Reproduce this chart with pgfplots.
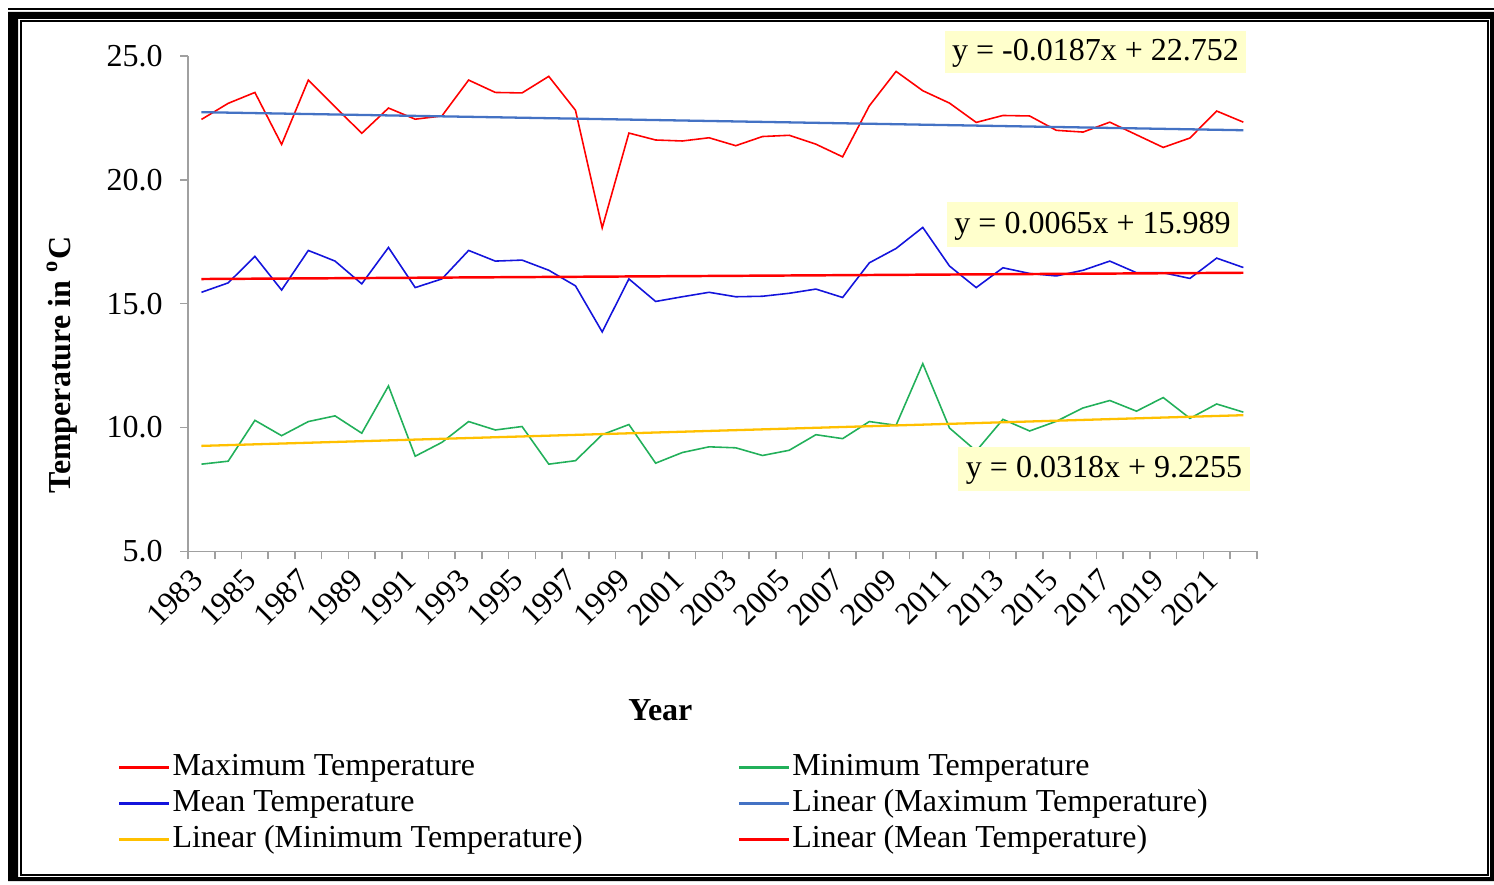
\documentclass[border=0pt]{standalone}
\usepackage{pgfplots}
\usepackage{pgfplotstable}
\pgfplotsset{compat=1.18}
\usepackage{fontspec}
\setmainfont{Liberation Serif}
\definecolor{maxc}{HTML}{FF0000}
\definecolor{meanc}{HTML}{1414DC}
\definecolor{minc}{HTML}{22B05A}
\definecolor{linmax}{HTML}{4472C4}
\definecolor{linmin}{HTML}{FFC000}
\definecolor{linmean}{HTML}{FF0000}
\definecolor{axisgray}{HTML}{A0A0A0}
\definecolor{eqfill}{HTML}{FFFFCC}

\pgfplotstableread{
x  max    min    mean
1  22.44  8.52   15.46
2  23.09  8.64   15.84
3  23.53  10.29  16.91
4  21.43  9.67   15.55
5  24.03  10.24  17.15
6  22.95  10.47  16.72
7  21.88  9.77   15.80
8  22.90  11.68  17.27
9  22.45  8.84   15.65
10 22.58  9.40   16.00
11 24.03  10.24  17.15
12 23.53  9.90   16.72
13 23.51  10.04  16.76
14 24.18  8.52   16.35
15 22.81  8.66   15.72
16 18.06  9.71   13.86
17 21.89  10.12  16.00
18 21.61  8.56   15.09
19 21.57  8.99   15.28
20 21.70  9.22   15.46
21 21.38  9.18   15.28
22 21.75  8.87   15.30
23 21.80  9.08   15.42
24 21.44  9.71   15.59
25 20.93  9.55   15.25
26 22.99  10.24  16.65
27 24.38  10.09  17.23
28 23.60  12.58  18.08
29 23.10  9.98   16.52
30 22.32  9.05   15.65
31 22.60  10.33  16.45
32 22.58  9.86   16.22
33 22.00  10.25  16.12
34 21.93  10.79  16.35
35 22.33  11.09  16.72
36 21.82  10.66  16.25
37 21.31  11.21  16.25
38 21.69  10.37  16.02
39 22.78  10.95  16.84
40 22.33  10.62  16.46
}\datatable

\begin{document}
\begin{tikzpicture}[font=\fontsize{9.1}{10.9}\selectfont]
\begin{scope}[x=0.01cm,y=-0.01cm,shift={(0,8.84cm)}]
  \useasboundingbox (0,0) rectangle (1494,884);
  \fill[black] (8,8) rectangle (1494,10);
  \fill[black,even odd rule] (8,12) rectangle (1494,881) (18,19) rectangle (1490,877);
  \draw[black,line width=0.015cm] (21,21) rectangle (1488,875);
\end{scope}

\begin{axis}[
  scale only axis, width=10.68cm, height=4.95cm,
  at={(1.88cm,3.33cm)}, anchor=south west,
  xmin=0.5, xmax=40.5, ymin=5, ymax=25,
  axis x line*=bottom, axis y line*=left,
  axis line style={draw=axisgray, line width=0.45pt, -},
  tick style={draw=axisgray, line width=0.45pt},
  tick align=outside, major tick length=0.08cm,
  ytick={5,10,15,20,25},
  /pgf/number format/assume math mode=true,
  y tick label style={/pgf/number format/.cd, fixed, fixed zerofill, precision=1, /tikz/.cd, xshift=-0.05cm},
  xtick={0.5,1.5,2.5,3.5,4.5,5.5,6.5,7.5,8.5,9.5,10.5,11.5,12.5,13.5,14.5,15.5,16.5,17.5,18.5,19.5,20.5,21.5,22.5,23.5,24.5,25.5,26.5,27.5,28.5,29.5,30.5,31.5,32.5,33.5,34.5,35.5,36.5,37.5,38.5,39.5,40.5},
  xticklabels={},
  extra x ticks={1,3,5,7,9,11,13,15,17,19,21,23,25,27,29,31,33,35,37,39},
  extra x tick labels={1983,1985,1987,1989,1991,1993,1995,1997,1999,2001,2003,2005,2007,2009,2011,2013,2015,2017,2019,2021},
  extra x tick style={major tick length=0pt, xticklabel style={xshift=-0.12cm, yshift=-0.15cm, rotate=45, anchor=north east, inner sep=0pt}},
  ylabel={\textbf{Temperature in \textsuperscript{o}C}},
  ylabel style={at={(axis description cs:-0.118,0.376)}, anchor=center},
  xlabel={\textbf{Year}},
  xlabel style={at={(axis description cs:0.442,-0.321)}, anchor=center},
  legend columns=2,
  legend cell align=left,
  legend style={at={(axis description cs:-0.0655,-0.400)}, anchor=north west,
    draw=none, fill=none, inner sep=0pt, outer sep=0pt, row sep=0pt,
    /tikz/every even column/.append style={column sep=1.53cm},
    nodes={inner sep=0.02cm, text height=0.24cm, text depth=0.08cm}},
  legend image code/.code={\draw[#1] (0cm,0cm) -- (0.5cm,0cm);},
]
\addplot[color=maxc, line width=0.45pt, forget plot] table[x=x,y=max] {\datatable};
\addplot[color=minc, line width=0.45pt, forget plot] table[x=x,y=min] {\datatable};
\addplot[color=meanc, line width=0.45pt, forget plot] table[x=x,y=mean] {\datatable};
\addplot[color=linmax, line width=0.65pt, forget plot] coordinates {(1,22.7333) (40,22.004)};
\addplot[color=linmin, line width=0.65pt, forget plot] coordinates {(1,9.2573) (40,10.4975)};
\addplot[color=linmean, line width=0.7pt, forget plot] coordinates {(1,15.9955) (40,16.249)};
\addlegendimage{color=maxc, line width=0.62pt}
\addlegendentry{Maximum Temperature}
\addlegendimage{color=minc, line width=0.62pt}
\addlegendentry{Minimum Temperature}
\addlegendimage{color=meanc, line width=0.62pt}
\addlegendentry{Mean Temperature}
\addlegendimage{color=linmax, line width=0.68pt}
\addlegendentry{Linear (Maximum Temperature)}
\addlegendimage{color=linmin, line width=0.68pt}
\addlegendentry{Linear (Minimum Temperature)}
\addlegendimage{color=linmean, line width=0.72pt}
\addlegendentry{Linear (Mean Temperature)}
\end{axis}

\begin{scope}[x=0.01cm,y=-0.01cm,shift={(0,8.84cm)}]
  \fill[eqfill] (945,31) rectangle (1246,73);
  \node[inner sep=0] at (1095.5,53) {y = -0.0187x + 22.752};
  \fill[eqfill] (947,202) rectangle (1238,247);
  \node[inner sep=0] at (1092.5,226) {y = 0.0065x + 15.989};
  \fill[eqfill] (958,447) rectangle (1250,491);
  \node[inner sep=0] at (1104,470) {y = 0.0318x + 9.2255};
\end{scope}
\end{tikzpicture}
\end{document}
